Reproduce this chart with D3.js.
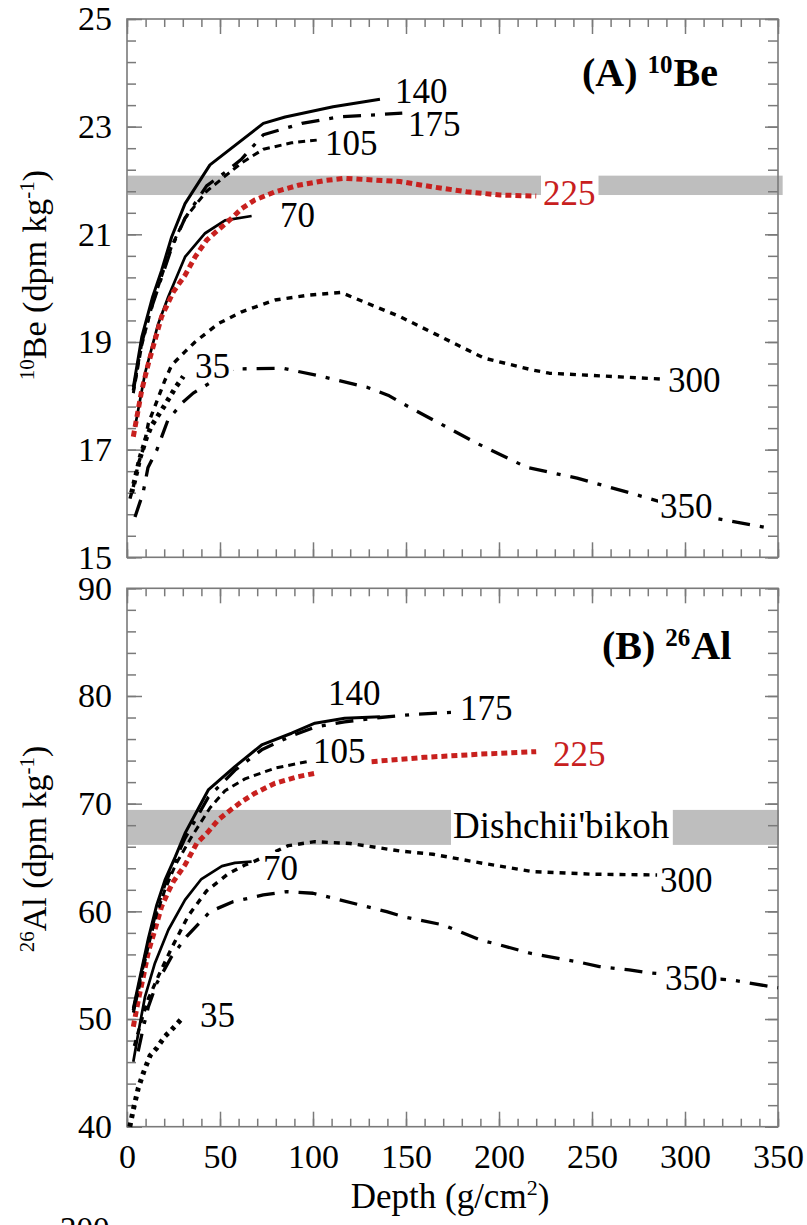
<!DOCTYPE html>
<html><head><meta charset="utf-8">
<script src="https://cdn.jsdelivr.net/npm/d3@7"></script>
<style>body{margin:0;background:#fff}svg{display:block}</style>
</head><body>
<svg id="c" width="807" height="1225"></svg>
<script>
// ---------- data ----------
const depthTicks = [0,50,100,150,200,250,300,350];
const beTicks = [15,17,19,21,23,25];
const alTicks = [40,50,60,70,80,90];
const beBand = [21.73,22.09];
const alBand = [66.17,69.42];

const be140 = [[3.4,18.16],[8,19.1],[13.8,19.84],[18.6,20.33],[24,20.95],[31.2,21.57],[44.6,22.29],[73.3,23.06],[85,23.18],[110.8,23.37],[136,23.51]];
const be175 = [[3.4,18.1],[8,19.0],[13.8,19.7],[18.6,20.2],[24,20.75],[31.2,21.3],[42.8,21.9],[52.7,22.15],[61.7,22.4],[73.3,22.85],[94,23.06],[113.6,23.18],[148,23.25]];
const be105 = [[3.4,18.05],[8,18.95],[13.8,19.72],[18.6,20.22],[24,20.78],[31.2,21.3],[42.8,21.8],[52.7,22.08],[61.7,22.33],[73.3,22.58],[88.5,22.7],[102,22.75]];
const be70  = [[4.3,17.42],[9.7,18.42],[16.8,19.34],[22.2,19.84],[31.2,20.58],[42,21.02],[52.7,21.26],[67,21.34]];
const be225 = [[3.4,17.24],[7.9,18.1],[11.5,18.6],[15,19.03],[18.6,19.47],[24.9,19.93],[31.2,20.24],[36.6,20.58],[42.8,20.89],[49,21.08],[56.3,21.3],[61.7,21.48],[68.8,21.64],[79.6,21.79],[92,21.91],[106.5,22.0],[117,22.04],[146.8,21.98],[164.5,21.88],[182.6,21.79],[200.5,21.73],[220,21.71]];
const be300 = [[1.6,16.09],[3.4,16.31],[6.1,16.74],[8.8,17.02],[11.5,17.49],[20.4,18.29],[24,18.57],[31.2,18.82],[36.6,19.0],[49,19.34],[61.7,19.56],[79.6,19.78],[97.5,19.87],[115,19.92],[146.8,19.47],[165,19.16],[192,18.7],[218,18.48],[227,18.42],[288,18.31]];
const be35  = [[2.5,16.2],[4.3,16.45],[7,16.85],[10.6,17.24],[13.3,17.45],[20.4,17.83],[25.8,18.14],[30.3,18.36]];
const be350 = [[4.3,15.75],[8.6,16.19],[11.3,16.67],[16,16.99],[22,17.55],[30,17.88],[35.6,18.05],[57,18.5],[84,18.51],[102,18.38],[129,18.16],[141,18.0],[148,17.86],[188,17.12],[215,16.67],[242,16.47],[269,16.21],[280,16.1],[317,15.72],[346,15.54]];

const al140 = [[3.4,51.0],[7,53.9],[11.5,57.5],[16,60.6],[20.4,62.9],[26,65.08],[31.2,67.25],[43.7,71.27],[58,73.44],[72.4,75.45],[88.5,76.54],[101,77.47],[117,77.93],[136,78.08]];
const al175 = [[3.4,50.8],[7,53.6],[11.5,57.2],[16,60.2],[20.4,62.5],[26,64.8],[31.2,66.8],[43.7,70.6],[58,73.1],[72.4,75.0],[88.5,76.3],[101,77.1],[117,77.6],[136,78.0],[155,78.3],[176,78.5]];
const al105 = [[3.4,50.6],[7,53.3],[11.5,56.8],[16,59.8],[20.4,62.0],[26,64.3],[34.8,66.94],[44.6,69.6],[52.7,71.2],[63.4,72.3],[79.6,73.3],[96.6,73.9]];
const al70  = [[3.4,46.04],[7,49.6],[9.7,52.08],[15,55.18],[22.2,58.27],[31.2,61.06],[40,63.0],[51,64.2],[58,64.5],[67,64.62]];
const al225 = [[3.4,49.29],[6.1,51.77],[8.8,53.94],[11.5,56.26],[15,58.27],[18.6,60.44],[22.2,61.83],[24.9,62.76],[31.2,64.31],[37.5,66.32],[43.7,67.4],[49,68.49],[54.5,69.26],[61.7,70.19],[68.8,70.97],[79.6,71.9],[92,72.51],[101,72.82],[116,null],[131.5,73.9],[160,74.3],[190,74.6],[220,74.83]];
const al300 = [[4,47.5],[8,50.0],[11.5,51.9],[17.7,54.3],[24,56.6],[33,59.6],[42.8,61.9],[54.5,63.5],[63.4,64.3],[67.9,64.6],[86.7,66.1],[101,66.47],[120,66.3],[147,65.6],[164.5,65.3],[191,64.47],[218,63.69],[250,63.45],[285,63.38]];
const al350 = [[6,47.0],[8.5,49.0],[11.5,51.15],[16,53.32],[24,55.8],[32,57.65],[44.6,59.97],[57,60.9],[73.3,61.52],[85.9,61.83],[100,61.68],[111,61.22],[125,60.6],[139.6,59.97],[148.6,59.5],[170,58.74],[190,57.34],[200.5,56.88],[216.7,56.11],[241.8,55.33],[254,54.87],[270,54.56],[279.4,54.31],[300,54.0],[326,53.6],[343,53.1],[350,52.9]];
const al35  = [[1.5,40.0],[3.4,41.6],[6.1,43.6],[8.8,45.0],[12.4,46.6],[16,47.3],[20.4,48.4],[24,49.0],[30.3,50.2]];

const seriesNames = ['350','35','300','70','225','105','175','140'];
const beSeries = {'350':be350,'35':be35,'300':be300,'70':be70,'225':be225,'105':be105,'175':be175,'140':be140};
const alSeries = {'350':al350,'35':al35,'300':al300,'70':al70,'225':al225,'105':al105,'175':al175,'140':al140};
const bandLabel = "Dishchii'bikoh";

// ---------- styles / layout ----------
const FONT = "'Liberation Serif','Times New Roman',serif";
const styleOf = {
  '140':{stroke:'#000',w:3,dash:null},
  '70':{stroke:'#000',w:2.7,dash:null},
  '175':{stroke:'#000',w:3.3,dash:'18,10,4,10'},
  '350':{stroke:'#000',w:3.3,dash:'18,10,4,10'},
  '105':{stroke:'#000',w:3,dash:'7,5'},
  '300':{stroke:'#000',w:3.4,dash:'6,6'},
  '35':{stroke:'#000',w:5,dash:'4,5'},
  '225':{stroke:'#c8201e',w:5,dash:'6,4'}
};
const labelsA = [
  {t:'140',x:395,y:103},{t:'175',x:408,y:136},{t:'105',x:325,y:155},{t:'70',x:280,y:227},
  {t:'225',x:543,y:205,red:true,band:true},{t:'300',x:668,y:392},{t:'350',x:660,y:518},{t:'35',x:195,y:378}
];
const labelsB = [
  {t:'140',x:328,y:705},{t:'175',x:460,y:720},{t:'105',x:313,y:763},{t:'225',x:553,y:766,red:true},
  {t:'70',x:263,y:880},{t:'300',x:660,y:892},{t:'350',x:665,y:990},{t:'35',x:200,y:1027},
  {t:bandLabel,x:453,y:838,band:true,fs:37}
];

const svg = d3.select('#c');
const x = d3.scaleLinear().domain([0,350]).range([127,778]);
const yA = d3.scaleLinear().domain([15,25]).range([557.3,19]);
const yB = d3.scaleLinear().domain([40,90]).range([1126.7,588.3]);
const AX = '#7a7a7a';

function styleAxis(g){
  g.select('.domain').remove();
  g.selectAll('line').attr('stroke',AX).attr('stroke-width',1.5);
  g.attr('font-family',FONT).attr('font-size',34).attr('fill','#000');
  g.selectAll('text').attr('fill','#000');
}

function panel(y, majors, minorStep, showX, band, bandXMax, series, labels){
  const top = y.range()[1], bot = y.range()[0], L = x.range()[0], R = x.range()[1];
  svg.append('rect').attr('x',x(0)+1).attr('width',x(bandXMax)-x(0)-1)
    .attr('y',y(band[1])).attr('height',y(band[0])-y(band[1])).attr('fill','#bebebe');
  const yMin = d3.range(y.domain()[0], y.domain()[1]+1e-9, minorStep);
  const xMin = d3.range(0, 351, 10);
  styleAxis(svg.append('g').attr('transform',`translate(${L},0)`).call(d3.axisLeft(y).tickValues(yMin).tickSize(-9).tickFormat('')));
  styleAxis(svg.append('g').attr('transform',`translate(${L},0)`).call(d3.axisLeft(y).tickValues(majors).tickSize(-15).tickPadding(15).tickFormat(d3.format('d'))));
  styleAxis(svg.append('g').attr('transform',`translate(${R},0)`).call(d3.axisRight(y).tickValues(yMin).tickSize(-10).tickFormat('')));
  styleAxis(svg.append('g').attr('transform',`translate(${R},0)`).call(d3.axisRight(y).tickValues(majors).tickSize(-13).tickFormat('')));
  styleAxis(svg.append('g').attr('transform',`translate(0,${top})`).call(d3.axisTop(x).tickValues(xMin).tickSize(-8).tickFormat('')));
  styleAxis(svg.append('g').attr('transform',`translate(0,${top})`).call(d3.axisTop(x).tickValues(depthTicks).tickSize(-15).tickFormat('')));
  styleAxis(svg.append('g').attr('transform',`translate(0,${bot})`).call(d3.axisBottom(x).tickValues(xMin).tickSize(-8).tickFormat('')));
  styleAxis(svg.append('g').attr('transform',`translate(0,${bot})`).call(d3.axisBottom(x).tickValues(depthTicks).tickSize(-15).tickPadding(17).tickFormat(showX ? d3.format('d') : '')));
  svg.append('rect').attr('x',L).attr('y',top).attr('width',R-L).attr('height',bot-top)
    .attr('fill','none').attr('stroke',AX).attr('stroke-width',1.6);
  const line = d3.line().defined(d=>d[1]!=null).x(d=>x(d[0])).y(d=>y(d[1]));
  seriesNames.forEach(n=>{
    const s = styleOf[n];
    svg.append('path').datum(series[n]).attr('d',line).attr('fill','none')
      .attr('stroke',s.stroke).attr('stroke-width',s.w)
      .attr('stroke-dasharray',s.dash).attr('stroke-linejoin','round');
  });
  labels.forEach(l=>{
    const fs = l.fs || 35;
    const g = svg.append('g');
    const rect = g.append('rect').attr('fill','#fff');
    const t = g.append('text').attr('x',l.x).attr('y',l.y).attr('font-family',FONT)
      .attr('font-size',fs).attr('fill',l.red?'#c8201e':'#000').text(l.t);
    const bb = t.node().getBBox();
    let y0 = l.y - 0.8*fs, y1 = l.y + 0.08*fs;
    if(l.band){ y0 = Math.min(y0, y(band[1])-1); y1 = Math.max(y1, y(band[0])+1); }
    rect.attr('x',bb.x-2).attr('width',bb.width+5).attr('y',y0).attr('height',y1-y0);
  });
}

panel(yA, beTicks, 0.4, false, beBand, 352.5, beSeries, labelsA);
panel(yB, alTicks, 2, true, alBand, 350.5, alSeries, labelsB);

function title(xp, yp, a, sup, b){
  const t = svg.append('text').attr('x',xp).attr('y',yp).attr('font-family',FONT)
    .attr('font-weight','bold').attr('font-size',40).attr('fill','#000');
  t.append('tspan').text(a);
  t.append('tspan').attr('font-size',25).attr('dy',-13).attr('dx',10).text(sup);
  t.append('tspan').attr('font-size',40).attr('dy',13).attr('dx',1).text(b);
}
title(582, 86, '(A)', '10', 'Be');
title(602, 659, '(B)', '26', 'Al');

function ytitle(cy, sup, el){
  const t = svg.append('text').attr('transform',`translate(46,${cy}) rotate(-90)`)
    .attr('text-anchor','middle').attr('font-family',FONT).attr('font-size',34).attr('fill','#000');
  t.append('tspan').attr('font-size',21).attr('dy',-12).text(sup);
  t.append('tspan').attr('dy',12).text(el + ' (dpm kg');
  t.append('tspan').attr('font-size',21).attr('dy',-12).text('-1');
  t.append('tspan').attr('dy',12).text(')');
}
ytitle(275, '10', 'Be');
ytitle(849, '26', 'Al');

const xt = svg.append('text').attr('x',450).attr('y',1208).attr('text-anchor','middle')
  .attr('font-family',FONT).attr('font-size',35).attr('fill','#000');
xt.append('tspan').text('Depth (g/cm');
xt.append('tspan').attr('font-size',22).attr('dy',-13).text('2');
xt.append('tspan').attr('dy',13).text(')');

svg.append('text').attr('x',60).attr('y',1240).attr('font-family',FONT).attr('font-size',33).attr('fill','#000').text('200');
</script>
</body></html>
